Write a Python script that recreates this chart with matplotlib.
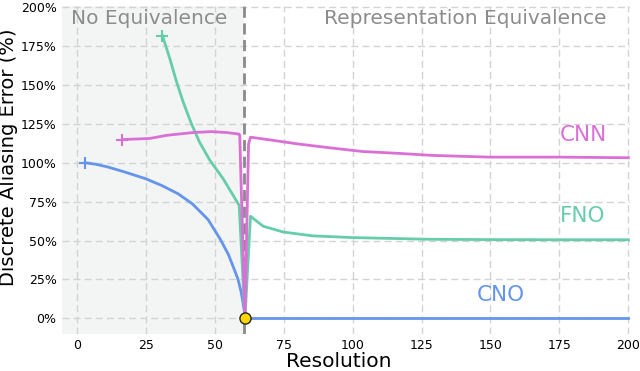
import matplotlib
matplotlib.use("Agg")
import matplotlib.pyplot as plt

# ---- data ----
cno_x = [3, 7, 11.4, 17.5, 25, 30.8, 36.8, 42, 47.6, 52, 55, 57, 58.5, 59.6, 60.3, 60.8, 61]
cno_y = [100, 99, 97.2, 94, 89.7, 85.4, 80, 73.5, 63.5, 51, 41, 32, 25, 17, 10, 4, 0]
cno_x2 = [61, 200]
cno_y2 = [0, 0]

fno_x = [31.1, 33.8, 36.2, 38.6, 41.6, 44.6, 48.3, 53.1, 58.9, 61, 63, 67.6, 74.8, 85.6, 100, 128, 150, 175, 200]
fno_y = [181.6, 166.7, 152, 139, 125, 113, 101.5, 89.7, 72.6, 0, 65.6, 59.2, 55.5, 53, 51.9, 50.8, 50.6, 50.5, 50.5]

cnn_x = [16.6, 26.5, 32.6, 42.2, 48.9, 54.3, 58.9, 59.1, 61, 62.3, 63, 70, 79.6, 91.7, 103.7, 116.9, 129, 149.6, 175, 200]
cnn_y = [114.9, 115.6, 117.6, 119.4, 120, 119.4, 118.4, 117.5, 0, 112, 116.4, 114.7, 112.2, 109.6, 107.2, 106, 104.7, 103.6, 103.6, 103.2]

boundary_x = 60.5
critical = (61, 0)

xticks = [0, 25, 50, 75, 100, 125, 150, 175, 200]
yticks = [0, 25, 50, 75, 100, 125, 150, 175, 200]
ytick_labels = [f"{v}%" for v in yticks]

c_cno = "#6495ED"
c_fno = "#66CDAA"
c_cnn = "#DA70D6"

fig = plt.figure(figsize=(6.4, 3.71), dpi=100)
ax = fig.add_axes([0.097, 0.1, 0.887, 0.885])

ax.set_xlim(-5.3, 200.5)
ax.set_ylim(-10, 201)

ax.axvspan(-5.3, boundary_x, color="#f3f4f4", zorder=0, lw=0)

ax.grid(True, ls=(0, (5, 3)), color="#d3d3d3", lw=1.0, zorder=1)
ax.set_axisbelow(True)
for s in ax.spines.values():
    s.set_visible(False)

ax.axvline(boundary_x, color="#8a8a8a", ls=(0, (4, 2)), lw=2.0, zorder=2)

lw = 2.0
ax.plot(cno_x, cno_y, color=c_cno, lw=lw, zorder=3)
ax.plot(cno_x2, cno_y2, color=c_cno, lw=lw, zorder=3)
ax.plot(fno_x, fno_y, color=c_fno, lw=lw, zorder=3)
ax.plot(cnn_x, cnn_y, color=c_cnn, lw=lw, zorder=3)

ax.plot(cno_x[0], cno_y[0], marker="+", color=c_cno, ms=9, mew=1.5, zorder=4)
ax.plot(fno_x[0], fno_y[0], marker="+", color=c_fno, ms=9, mew=1.5, zorder=4)
ax.plot(cnn_x[0], cnn_y[0], marker="+", color=c_cnn, ms=9, mew=1.5, zorder=4)

ax.plot(*critical, marker="o", ms=8, mfc="#FFD700", mec="#222222", mew=1.0, zorder=5, clip_on=False)

ax.text(175.3, 117.5, "CNN", color=c_cnn, fontsize=15.5, va="center", ha="left")
ax.text(175.3, 65.6, "FNO", color=c_fno, fontsize=15.5, va="center", ha="left")
ax.text(145, 15, "CNO", color=c_cno, fontsize=15.5, va="center", ha="left")

ax.text(-2.0, 193, "No Equivalence", color="#8c8c8c", fontsize=14.5, va="center", ha="left")
ax.text(89.5, 193, "Representation Equivalence", color="#8c8c8c", fontsize=14.5, va="center", ha="left")

ax.set_xticks(xticks)
ax.set_yticks(yticks)
ax.set_yticklabels(ytick_labels)
ax.tick_params(length=0, labelsize=9, pad=4)

ax.set_xlabel("Resolution", fontsize=14.5)
ax.set_ylabel("Discrete Aliasing Error (%)", fontsize=14)
ax.xaxis.set_label_coords(0.488, -0.055)
ax.yaxis.set_label_coords(-0.077, 0.538)

fig.savefig("out.png", dpi=100)
